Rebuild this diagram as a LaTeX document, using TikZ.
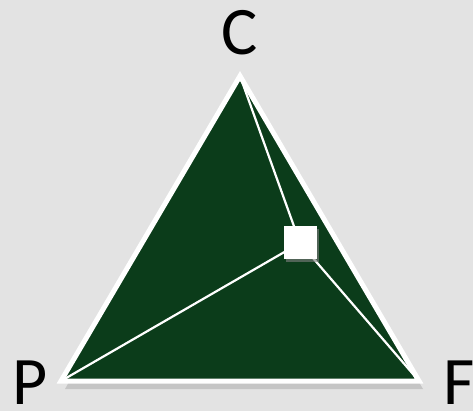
\documentclass[tikz,border=0pt]{standalone}
\usepackage{fontspec}
\setmainfont{Carlito}
\usetikzlibrary{shadows,calc}
\definecolor{bg}{HTML}{E3E3E3}
\definecolor{tri}{HTML}{0B3C1A}
\begin{document}
\begin{tikzpicture}[x=1pt,y=-1pt,
  lbl/.style={font=\fontsize{68}{68}\selectfont, text=black, inner sep=0pt, anchor=base, text depth=0pt},
  inner line/.style={draw=white, line width=2.2pt},
  sq/.style={fill=white, minimum size=33pt, inner sep=0pt, drop shadow={shadow xshift=2pt, shadow yshift=-3pt, opacity=0.6}}]
\fill[bg] (0,0) rectangle (473,411);
\useasboundingbox (0,0) rectangle (473,411);
\coordinate (C) at (240,76);
\coordinate (P) at (61,381);
\coordinate (F) at (419,381);
% shadow
\fill[black, opacity=0.13] ($(C)+(2,5)$) -- ($(P)+(4,8)$) -- ($(F)+(4,8)$) -- cycle;
\filldraw[fill=tri, draw=white, line width=5pt, line join=miter] (C) -- (P) -- (F) -- cycle;
\coordinate (S) at (300,243);
\draw[inner line] (C) -- (S);
\draw[inner line] (P) -- (S);
\draw[inner line] (F) -- (S);
\node[sq] (box) at (S) {};
\node[lbl] (lc) at (240,55) {C};
\node[lbl] (lp) at (30,404) {P};
\node[lbl] (lf) at (459,404) {F};
\end{tikzpicture}
\end{document}
